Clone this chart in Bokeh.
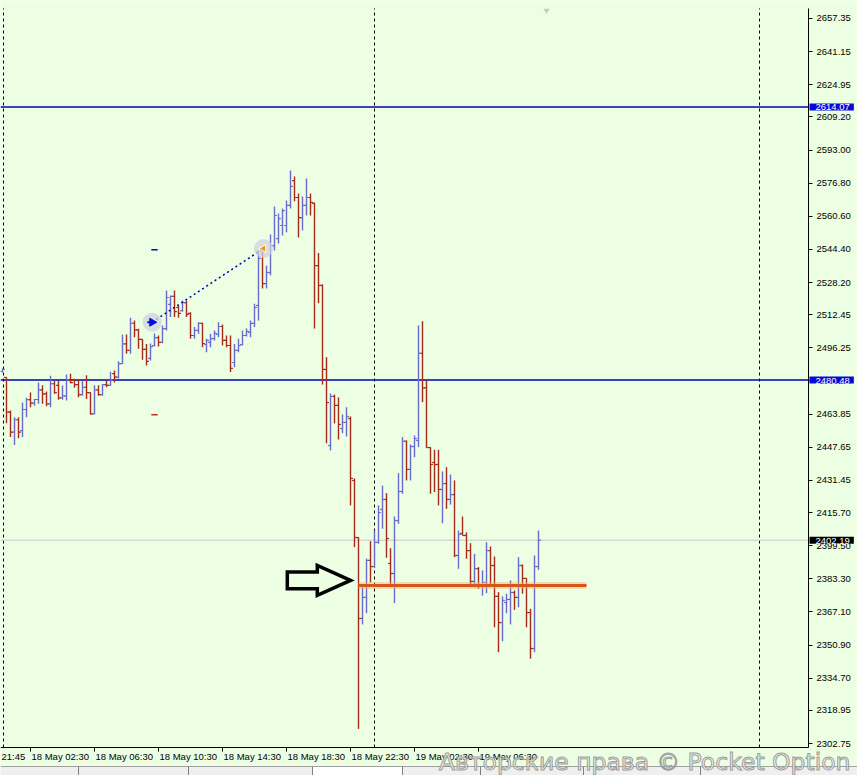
from bokeh.plotting import figure
from bokeh.models import (FixedTicker, PrintfTickFormatter, Label,
                          ColumnDataSource, Range1d)
from bokeh.embed import file_html
from bokeh.resources import INLINE

# ---------------- data (M15 bars, prices) ----------------
opens = [2484.7, 2481.8, 2464.8, 2455.0, 2461.1, 2455.8, 2466.1, 2470.9, 2469.2, 2471.0,
         2475.7, 2473.8, 2468.9, 2478.7, 2477.9, 2471.8, 2472.8, 2480.6, 2480.3, 2478.3,
         2473.4, 2477.0, 2474.4, 2464.0, 2475.7, 2473.4, 2478.3, 2477.9, 2483.7, 2481.9,
         2488.5, 2498.2, 2495.0, 2508.3, 2505.1, 2500.4, 2495.5, 2491.1, 2497.4, 2501.3,
         2498.9, 2505.7, 2517.5, 2521.4, 2516.0, 2514.5, 2518.4, 2513.1, 2502.3, 2504.8,
         2508.2, 2497.9, 2498.9, 2500.8, 2502.8, 2506.7, 2499.9, 2497.4, 2489.1, 2495.0,
         2497.9, 2502.3, 2503.8, 2508.2, 2517.0, 2543.9, 2527.7, 2533.1, 2546.3, 2549.7,
         2556.1, 2556.1, 2565.9, 2578.1, 2569.8, 2560.0, 2565.9, 2569.8, 2566.9, 2536.5,
         2526.8, 2485.7, 2448.5, 2472.5, 2468.1, 2456.8, 2459.8, 2461.7, 2431.4, 2403.5,
         2363.9, 2374.2, 2392.3, 2389.3, 2401.1, 2417.2, 2422.1, 2390.8, 2385.9, 2411.8,
         2426.0, 2450.6, 2436.8, 2448.0, 2451.0, 2493.6, 2476.7, 2447.5, 2440.2, 2439.2,
         2427.0, 2429.9, 2422.1, 2424.5, 2394.7, 2405.5, 2404.5, 2397.1, 2382.0, 2388.3,
         2380.0, 2381.5, 2397.1, 2389.8, 2374.7, 2361.9, 2371.7, 2373.2, 2376.6, 2374.2,
         2389.8, 2383.5, 2366.8, 2349.2, 2389.3]
highs = [2486.2, 2481.9, 2465.6, 2462.3, 2462.3, 2469.5, 2471.8, 2474.4, 2471.3, 2479.3,
         2478.0, 2474.9, 2482.6, 2480.0, 2480.0, 2477.9, 2483.2, 2483.6, 2481.1, 2480.6,
         2480.3, 2482.9, 2474.4, 2478.0, 2478.0, 2478.5, 2480.3, 2484.6, 2485.2, 2489.7,
         2502.8, 2502.8, 2511.0, 2509.6, 2505.6, 2500.6, 2498.2, 2498.4, 2503.3, 2502.3,
         2507.2, 2524.3, 2521.9, 2524.3, 2517.0, 2519.4, 2519.4, 2513.7, 2506.4, 2508.8,
         2508.5, 2500.7, 2503.1, 2504.8, 2508.8, 2507.7, 2502.3, 2502.3, 2498.2, 2500.7,
         2504.8, 2505.7, 2509.6, 2517.8, 2543.9, 2546.3, 2536.5, 2551.7, 2565.4, 2562.0,
         2564.4, 2568.3, 2583.0, 2580.1, 2571.8, 2570.3, 2579.1, 2571.8, 2567.4, 2542.6,
         2527.3, 2491.7, 2473.9, 2473.4, 2472.0, 2463.7, 2467.2, 2462.7, 2432.4, 2403.7,
         2379.2, 2393.2, 2401.7, 2406.9, 2419.2, 2428.9, 2425.2, 2398.3, 2413.8, 2435.0,
         2452.6, 2451.0, 2449.0, 2453.4, 2507.2, 2509.3, 2480.3, 2447.7, 2446.4, 2446.4,
         2435.8, 2437.9, 2434.3, 2431.4, 2406.9, 2413.8, 2406.0, 2400.7, 2395.5, 2389.0,
         2387.4, 2401.2, 2399.1, 2394.2, 2376.8, 2374.7, 2376.0, 2382.5, 2377.6, 2393.9,
         2390.3, 2383.6, 2368.6, 2394.7, 2406.9]
lows = [2484.2, 2459.4, 2452.6, 2448.8, 2452.1, 2452.6, 2462.3, 2467.2, 2467.9, 2468.9,
        2468.9, 2467.7, 2467.2, 2473.8, 2470.9, 2470.9, 2470.5, 2479.0, 2476.7, 2472.1,
        2472.8, 2471.2, 2463.7, 2463.8, 2472.8, 2472.8, 2477.0, 2477.7, 2479.3, 2481.3,
        2488.5, 2493.4, 2493.4, 2501.5, 2495.8, 2490.4, 2487.6, 2490.1, 2496.9, 2496.9,
        2498.5, 2504.8, 2511.3, 2511.3, 2511.0, 2513.9, 2511.3, 2500.7, 2500.7, 2503.1,
        2496.6, 2494.1, 2496.6, 2499.9, 2501.5, 2497.4, 2496.6, 2484.4, 2486.8, 2494.1,
        2497.4, 2501.8, 2501.5, 2506.4, 2509.6, 2525.3, 2525.3, 2531.7, 2543.9, 2547.3,
        2551.2, 2552.8, 2564.4, 2568.0, 2550.2, 2553.7, 2561.0, 2561.0, 2505.7, 2518.1,
        2478.3, 2449.6, 2446.1, 2459.3, 2451.4, 2454.5, 2452.9, 2419.2, 2398.8, 2309.9,
        2361.0, 2366.5, 2381.6, 2388.5, 2400.5, 2407.8, 2393.6, 2379.7, 2371.4, 2410.2,
        2424.9, 2431.4, 2431.4, 2442.8, 2447.7, 2469.7, 2447.4, 2424.9, 2425.7, 2419.2,
        2410.5, 2417.5, 2419.6, 2393.9, 2388.2, 2404.5, 2393.1, 2380.0, 2379.2, 2378.4,
        2375.1, 2376.3, 2380.0, 2359.6, 2347.4, 2352.8, 2366.5, 2361.0, 2368.1, 2369.4,
        2376.0, 2359.6, 2344.2, 2347.4, 2387.7]
closes = [2485.7, 2464.8, 2455.0, 2461.1, 2455.0, 2466.1, 2470.9, 2469.2, 2471.0, 2475.7,
          2473.8, 2468.9, 2478.7, 2474.4, 2471.8, 2472.8, 2480.6, 2479.3, 2478.3, 2473.4,
          2477.0, 2474.4, 2464.0, 2475.7, 2473.4, 2478.3, 2477.9, 2480.6, 2481.9, 2488.5,
          2498.2, 2495.0, 2508.3, 2505.1, 2500.4, 2495.5, 2489.6, 2496.9, 2501.3, 2498.9,
          2505.7, 2520.9, 2521.4, 2514.0, 2513.1, 2518.4, 2512.6, 2502.3, 2504.8, 2508.2,
          2498.4, 2499.9, 2500.8, 2503.3, 2506.7, 2499.9, 2497.4, 2486.2, 2495.0, 2497.4,
          2502.3, 2504.3, 2508.2, 2516.0, 2540.0, 2527.7, 2533.1, 2546.3, 2561.0, 2559.5,
          2563.4, 2565.9, 2575.2, 2569.8, 2560.0, 2565.9, 2569.8, 2567.4, 2536.5, 2526.8,
          2485.7, 2469.5, 2472.5, 2468.1, 2458.8, 2459.8, 2462.7, 2432.4, 2403.5, 2363.9,
          2374.2, 2392.3, 2389.3, 2401.1, 2415.7, 2422.1, 2403.0, 2385.9, 2411.8, 2426.0,
          2450.6, 2436.8, 2448.0, 2451.9, 2493.6, 2476.7, 2447.5, 2439.2, 2439.2, 2427.0,
          2429.9, 2422.1, 2424.5, 2394.7, 2405.0, 2404.5, 2397.1, 2382.0, 2388.3, 2380.0,
          2381.5, 2397.1, 2389.8, 2374.7, 2361.9, 2372.7, 2373.2, 2376.6, 2374.2, 2389.8,
          2383.5, 2366.8, 2349.2, 2389.3, 2402.19]

# price axis ticks
ytick_vals = [2657.35, 2641.15, 2624.95, 2609.20, 2593.00, 2576.80, 2560.60, 2544.40,
              2528.20, 2512.45, 2496.25, 2480.05, 2463.85, 2447.65, 2431.45, 2415.70,
              2399.50, 2383.30, 2367.10, 2350.90, 2334.70, 2318.95, 2302.75]
# time axis (bar index of each label) and labels
xtick_bars = [7, 23, 39, 55, 71, 87, 103, 119]
xtick_labels = ["18 May 02:30", "18 May 06:30", "18 May 10:30", "18 May 14:30",
                "18 May 18:30", "18 May 22:30", "19 May 02:30", "19 May 06:30"]
first_label = "21:45"

# extents of the chart window (bars / prices)
chart_left, chart_right, window_right = -0.5, 201.5, 213.75
chart_top, chart_bottom = 2662.24, 2300.79
window_top, window_bottom = 2666.15, 2287.10
tabs_top = 2291.5
tab_separators = [19, 46.5, 77.5, 100, 119.5, 145.25, 174.5]
active_tab = (77.5, 100)

# horizontal levels
blue_levels = [2614.07, 2480.48]
bid_price = 2402.19
orange_level = 2380.0
orange_from_bar, orange_to_bar = 89, 146
# period separators (bar index)
separators = [0.25, 93, 189.25]
# trend line between two anchor points (bar, price)
trend_bars = [37.4, 65.25]
trend_prices = [2508.8, 2544.85]
# small level marks
mark_bar = 38.0
mark_blue = 2544.2
mark_red = 2463.5
top_mark = (136, 2661.3)
# hand drawn arrow: tip (bar, price) and outline offsets (bars, price)
arrow_tip = (87.0, 2382.5)
arrow_dx = [0, -8.3, -8.3, -15.8, -15.8, -8.3, -8.3, 0]
arrow_dp = [0, 7.3, 4.1, 4.1, -4.1, -4.1, -7.3, 0]
watermark = "Авторские права © Pocket Option"
watermark_pos = (212.0, 2293.9)

BG = "#ECFFE2"
BULL = "#6A6ACF"
BEAR = "#A82A1A"
LEVEL_BLUE = "#0000B0"
BOX_BLUE = "#0808D8"
FONT = "Liberation Sans"

# ---------------- figure ----------------
p = figure(width=857, height=775,
           x_range=Range1d(chart_left, window_right), y_range=Range1d(window_bottom, window_top),
           y_axis_location="right", output_backend="svg", toolbar_location=None,
           min_border_left=0, min_border_top=0, min_border_bottom=0, min_border_right=0)
p.background_fill_color = BG
p.border_fill_color = BG
p.outline_line_color = None
p.grid.visible = False

ya = p.yaxis[0]
ya.fixed_location = chart_right
ya.bounds = (chart_bottom, chart_top)
ya.ticker = FixedTicker(ticks=ytick_vals)
ya.formatter = PrintfTickFormatter(format="%.2f")
ya.major_tick_in = 0
ya.major_tick_out = 4
ya.minor_tick_line_color = None
ya.axis_line_color = "black"
ya.major_tick_line_color = "black"
ya.major_label_standoff = 4
ya.major_label_text_font = FONT
ya.major_label_text_font_size = "9.5px"
ya.major_label_text_color = "black"

xa = p.xaxis[0]
xa.fixed_location = chart_bottom
xa.bounds = (chart_left, chart_right)
xa.ticker = FixedTicker(ticks=xtick_bars)
xa.major_label_overrides = {t: "" for t in xtick_bars}
xa.major_tick_in = 0
xa.major_tick_out = 4
xa.minor_tick_line_color = None
xa.axis_line_color = "black"
xa.major_tick_line_color = "black"

# tabs strip at the bottom of the window
p.quad(left=[chart_left], right=[window_right], bottom=[window_bottom], top=[tabs_top],
       fill_color="#EFEFEF", line_color=None)
p.quad(left=[active_tab[0]], right=[active_tab[1]], bottom=[window_bottom], top=[tabs_top],
       fill_color="white", line_color=None)
p.segment([chart_left], [tabs_top], [window_right], [tabs_top], line_color="#A0A0A0", line_width=1)
p.segment(tab_separators, [window_bottom] * len(tab_separators), tab_separators,
          [tabs_top] * len(tab_separators), line_color="#808080", line_width=1)

# separators, levels
p.segment(separators, [chart_bottom] * len(separators), separators, [chart_top] * len(separators),
          line_color="black", line_width=1, line_dash="3 3")
p.segment([chart_left], [bid_price], [chart_right], [bid_price], line_color="#C8C8C8", line_width=1)
p.segment([chart_left] * 2, blue_levels, [chart_right] * 2, blue_levels,
          line_color=LEVEL_BLUE, line_width=1.5)

# ---------------- bars ----------------
n = len(opens)
xs = list(range(n))
cols = [BULL if c >= o else BEAR for o, c in zip(opens, closes)]
src = ColumnDataSource(dict(x=xs, xl=[x - 0.6 for x in xs], xr=[x + 0.6 for x in xs],
                            o=opens, h=highs, l=lows, c=closes, col=cols))
p.segment(x0="x", y0="l", x1="x", y1="h", line_color="col", line_width=1.4, source=src)
p.segment(x0="xl", y0="o", x1="x", y1="o", line_color="col", line_width=1.2, source=src)
p.segment(x0="x", y0="c", x1="xr", y1="c", line_color="col", line_width=1.2, source=src)

# orange level with halo
p.line([orange_from_bar, orange_to_bar], [orange_level, orange_level],
       line_color="#F4B080", line_width=7, line_alpha=0.45)
p.line([orange_from_bar, orange_to_bar], [orange_level, orange_level],
       line_color="#D4581A", line_width=3)

# trend line and anchor circles
p.line(trend_bars, trend_prices, line_color="#0000B8", line_width=1.5, line_dash="2 3")
p.scatter(trend_bars, trend_prices, size=19, marker="circle", fill_color="#D2D2DE",
          fill_alpha=0.75, line_color=None)
p.scatter([trend_bars[0]], [trend_prices[0]], marker="triangle", angle=-1.5708, size=8,
          fill_color="#0010E0", line_color="#0010E0")
p.segment([trend_bars[0] - 1.2], [trend_prices[0]], [trend_bars[0]], [trend_prices[0]],
          line_color="#0010E0", line_width=2)
p.scatter([trend_bars[1]], [trend_prices[1]], marker="triangle", angle=1.5708, size=8,
          fill_color="#E8A010", line_color="white", line_width=1)

# small marks
p.segment([mark_bar - 0.8], [mark_blue], [mark_bar + 0.8], [mark_blue],
          line_color="#0010C0", line_width=1.5)
p.segment([mark_bar - 0.8], [mark_red], [mark_bar + 0.8], [mark_red],
          line_color="#C03020", line_width=1.5)
p.scatter([top_mark[0]], [top_mark[1]], marker="inverted_triangle", size=6,
          fill_color="#C8C8C8", line_color=None)

# arrow
p.patch([arrow_tip[0] + d for d in arrow_dx], [arrow_tip[1] + d for d in arrow_dp],
        fill_alpha=0, line_color="black", line_width=3.5, line_join="miter")

# ---------------- price boxes on the axis ----------------
def price_box(price, fill):
    p.add_layout(Label(x=chart_right, y=price, x_offset=1, text=f"{price:.2f}",
                       text_align="left", text_baseline="middle", text_color="white",
                       text_font=FONT, text_font_size="9.5px",
                       background_fill_color=fill,
                       padding=dict(left=6, right=4, top=1, bottom=0)))

for lv in blue_levels:
    price_box(lv, BOX_BLUE)
price_box(bid_price, "black")

# ---------------- time labels ----------------
p.add_layout(Label(x=chart_left, y=chart_bottom, x_offset=1, y_offset=-3, text=first_label,
                   text_align="left", text_baseline="top", text_font=FONT,
                   text_font_size="9.5px", text_color="black"))
for b, lab in zip(xtick_bars, xtick_labels):
    p.add_layout(Label(x=b, y=chart_bottom, x_offset=1, y_offset=-3, text=lab,
                       text_align="left", text_baseline="top", text_font=FONT,
                       text_font_size="9.5px", text_color="black"))

# watermark
p.add_layout(Label(x=watermark_pos[0], y=watermark_pos[1], text=watermark,
                   text_align="right", text_baseline="alphabetic",
                   text_font="DejaVu Sans", text_font_size="23.5px",
                   text_color="#EDEDED", text_alpha=0.85,
                   text_outline_color="#8C8C8C"))

open("out.html", "w").write(file_html(p, INLINE))
